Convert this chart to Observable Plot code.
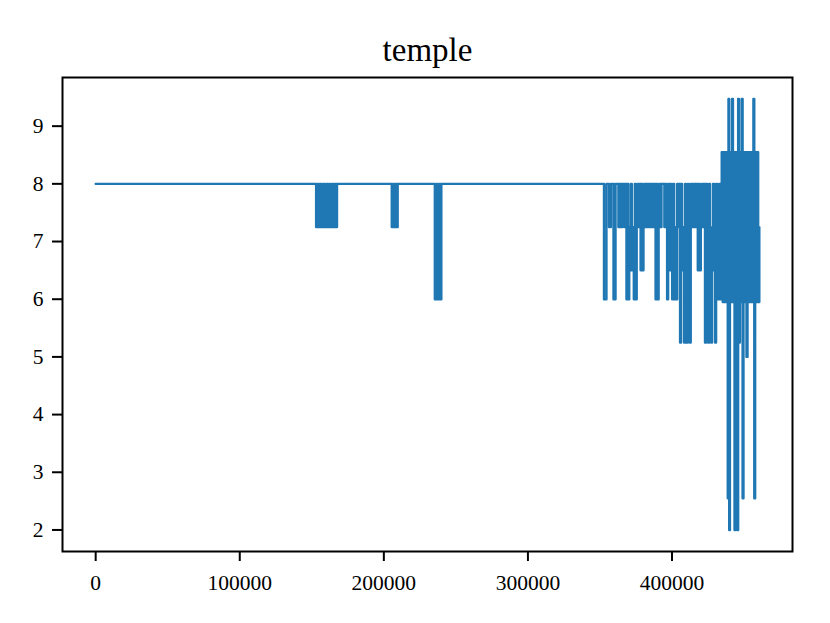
<!DOCTYPE html>
<html>
<head>
<meta charset="utf-8">
<script src="https://cdn.jsdelivr.net/npm/d3@7"></script>
<script src="https://cdn.jsdelivr.net/npm/@observablehq/plot@0.6"></script>
<style>
  html, body { margin: 0; padding: 0; background: white; }
</style>
</head>
<body>
<div id="chart"></div>
<script>
const chartTitle = "temple";
const xTicks = [0, 100000, 200000, 300000, 400000];
const yTicks = [2, 3, 4, 5, 6, 7, 8, 9];

// [sample index where the value changes, new value]
const flatStart = [[0, 8]];
const dipsEarly = [
  [153000, 7.25], [154000, 8], [155000, 7.25], [156000, 8], [157000, 7.25], [158000, 8],
  [159000, 7.25], [160000, 8], [161000, 7.25], [162000, 8], [163000, 7.25], [164000, 8],
  [165000, 7.25], [166000, 8], [166800, 7.25], [167500, 8],
  [205500, 7.25], [206400, 8], [207300, 7.25], [208300, 8], [208900, 7.25], [209600, 8],
  [235400, 6], [236400, 8], [237400, 6], [238400, 8], [239000, 6], [239900, 8]
];
const dipsMiddle = [
  [352800, 6], [354500, 8], [356300, 7.25], [357600, 8], [359400, 6], [360800, 8],
  [362800, 7.25], [363600, 8], [364800, 7.25], [365600, 8],
  [367000, 7.25], [367700, 8], [368400, 6], [369100, 8], [369700, 6], [370300, 7.25],
  [370900, 6.5], [371500, 8], [372100, 6.5], [372800, 7.25], [373500, 6], [374200, 8],
  [374900, 6], [375500, 7.25], [376200, 8], [376900, 7.25], [377600, 8], [378200, 6.5],
  [378900, 8], [379600, 6.5], [380200, 7.25], [380900, 8], [381600, 7.25], [382300, 8],
  [383000, 7.25], [383700, 8], [384400, 7.25], [385100, 8], [385800, 7.25], [386500, 8],
  [387200, 7.25], [387900, 8], [388600, 6], [389300, 8], [390000, 6], [390700, 7.25],
  [391400, 8], [392100, 7.25], [392700, 8], [394700, 7.25], [395400, 8], [396100, 7.25],
  [396600, 6], [397300, 8], [398000, 6.5], [398700, 8], [399400, 7.25], [400100, 6],
  [400800, 8], [401500, 6], [402200, 7.25], [402900, 6], [403600, 8], [404300, 7.25],
  [405000, 8], [405600, 5.25], [406300, 8], [407000, 6.5], [407700, 7.25], [408400, 5.25],
  [409100, 8], [409700, 7.25], [410300, 5.25], [411000, 8], [411600, 6.5], [412300, 5.25],
  [413000, 8], [413700, 7.25], [414400, 8], [415100, 7.25], [415800, 8], [416500, 7.25],
  [417200, 8], [417900, 6.5], [418600, 8], [419300, 6.5], [420000, 7.25], [420700, 8],
  [421400, 7.25], [422100, 8], [422900, 5.25], [423600, 8], [424300, 7.25], [425000, 5.25],
  [425700, 8], [426400, 6], [427100, 5.25], [427800, 7.25], [428500, 8], [429200, 6.5],
  [429900, 5.25], [430600, 8], [431300, 7.25], [432000, 6], [432700, 8], [433400, 6],
  [434000, 7.25]
];
const burstLate = [
  [434500, 8.55], [435200, 5.95], [435900, 8.55], [436600, 5.95], [437300, 8.55], [438000, 5.95],
  [438700, 2.55], [439200, 9.47], [439700, 2.0], [440200, 8.55], [440900, 5.95], [441700, 9.47],
  [442300, 5.95], [442900, 8.55], [443400, 2.0], [444000, 8.55], [444700, 5.25], [445300, 2.0],
  [445900, 9.47], [446500, 5.25], [447100, 8.55], [447800, 5.95], [448400, 9.47], [449000, 2.55],
  [449600, 8.55], [450300, 5.95], [451000, 8.55], [451700, 5.0], [452400, 8.55], [453100, 5.95],
  [453800, 8.55], [454500, 5.95], [455200, 8.55], [455900, 5.95], [456500, 9.47], [457100, 2.55],
  [457700, 8.55], [458400, 5.95], [459100, 8.55], [459800, 5.95], [460600, 7.25]
];

const samples = [...flatStart, ...dipsEarly, ...dipsMiddle, ...burstLate]
  .map(([x, y]) => ({x, y}));

const font = "'Liberation Serif', 'Times New Roman', serif";

const chart = Plot.plot({
  width: 830,
  height: 623,
  marginLeft: 62,
  marginRight: 38,
  marginTop: 77,
  marginBottom: 72,
  style: {fontFamily: font, fontSize: "21.5px", background: "white", color: "black"},
  x: {domain: [-23030, 483630]},
  y: {domain: [1.6265, 9.8435]},
  marks: [
    Plot.line(samples, {
      x: "x", y: "y", curve: "step-after",
      stroke: "#1f77b4", strokeWidth: 2.4
    }),
    Plot.frame({stroke: "black", strokeWidth: 2}),
    Plot.axisX({
      ticks: xTicks, tickFormat: d => String(d), tickSize: 10, tickPadding: 13,
      strokeWidth: 2, fontSize: 21.5, label: null
    }),
    Plot.axisY({
      ticks: yTicks, tickFormat: d => String(d), tickSize: 10, tickPadding: 9,
      strokeWidth: 2, fontSize: 21.5, label: null
    }),
    Plot.text([chartTitle], {
      text: d => d, frameAnchor: "top", lineAnchor: "bottom", dy: -17,
      fontSize: 33, fontFamily: font, fill: "black"
    })
  ]
});
document.getElementById("chart").appendChild(chart);
</script>
</body>
</html>
